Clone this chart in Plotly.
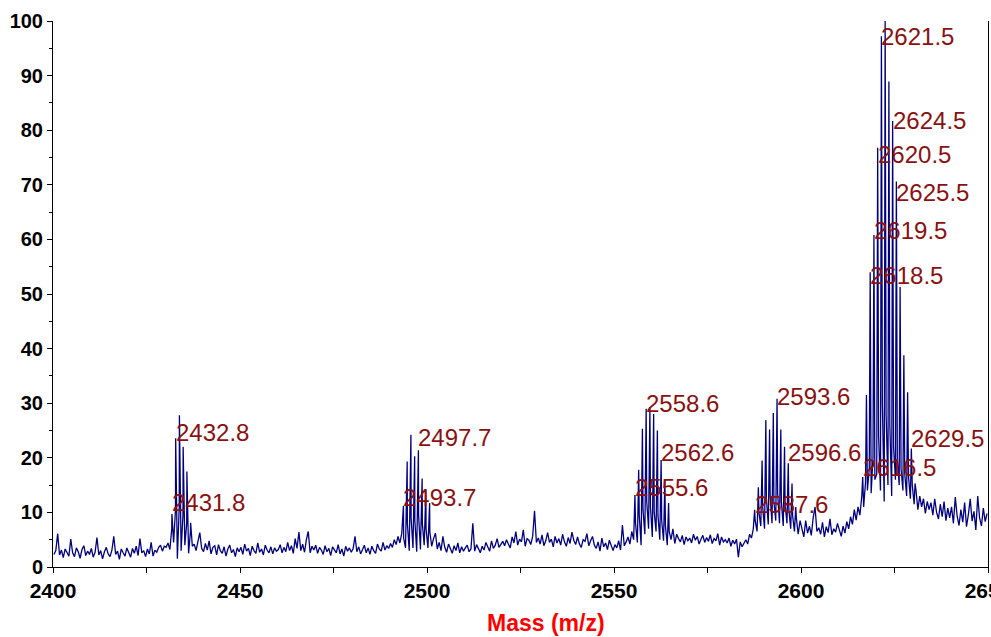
import numpy as np
import plotly.graph_objects as go

# ---------------- data ----------------
baseline_start = 2400.25
baseline_step = 0.5
baseline = [
    2.3, 3.0, 6.1, 2.2, 3.1, 1.7, 3.3, 2.5, 2.0, 5.1,
    2.6, 1.9, 3.5, 2.8, 1.6, 3.2, 3.9, 2.1, 2.9, 2.3,
    3.4, 1.8, 2.7, 5.4, 2.2, 3.0, 1.5, 2.8, 3.6, 2.4,
    1.9, 3.1, 5.6, 2.3, 2.9, 1.4, 3.3, 2.6, 2.0, 3.5,
    2.7, 1.8, 3.4, 2.5, 3.8, 2.1, 5.2, 2.6, 3.0, 1.9,
    3.3, 2.4, 4.5, 2.0, 3.1, 2.7, 3.6, 4.0, 2.9, 3.8,
    3.6, 4.4, 3.2, 7.0, 4.5, 10.5, 1.5, 11.0, 3.0, 9.5,
    4.0, 8.0, 2.5, 6.5, 3.8, 4.2, 3.0, 5.0, 6.3, 3.4,
    2.8, 4.3, 3.1, 4.8, 2.4, 3.6, 3.9, 2.2, 4.1, 3.0,
    2.5, 3.7, 2.0, 3.3, 4.0, 2.6, 3.2, 1.9, 3.5, 2.8,
    3.6, 2.3, 4.2, 2.9, 3.4, 2.1, 3.8, 3.0, 2.5, 4.4,
    2.7, 3.3, 2.2, 4.0, 3.1, 2.6, 3.7, 2.4, 3.5, 2.9,
    3.2, 4.1, 2.6, 3.6, 2.8, 4.5, 3.0, 3.9, 2.5, 5.2,
    3.4, 6.4, 3.0, 4.2, 2.7, 5.0, 6.5, 2.6, 3.8, 3.1,
    4.0, 2.5, 3.6, 3.1, 2.3, 3.9, 2.8, 3.4, 2.1, 3.7,
    3.0, 2.6, 4.1, 2.4, 3.3, 2.0, 3.8, 2.9, 3.5, 2.7,
    3.4, 5.6, 2.8, 3.7, 2.4, 3.2, 4.0, 2.6, 3.5, 2.3,
    3.8, 3.0, 2.5, 4.2, 3.3, 2.9, 4.5, 3.1, 3.9, 3.4,
    4.3, 3.6, 5.0, 4.1, 5.6, 4.4, 6.2, 5.3, 3.5, 8.0,
    3.0, 9.0, 3.5, 8.5, 2.8, 9.5, 3.2, 8.0, 4.0, 7.0,
    3.5, 6.5, 3.8, 5.2, 6.2, 3.3, 4.5, 3.0, 5.6, 3.6,
    2.7, 4.2, 3.4, 2.5, 3.9, 3.0, 4.4, 2.6, 3.7, 2.9,
    3.5, 4.0, 2.8, 3.3, 8.0, 2.9, 4.1, 3.4, 2.6, 3.8,
    3.1, 4.5, 3.7, 2.9, 4.8, 3.4, 4.0, 5.2, 3.6, 4.3,
    4.7, 3.9, 5.0, 4.2, 3.5, 5.5, 4.4, 6.5, 4.0, 5.1,
    4.6, 6.8, 3.8, 5.2, 4.9, 4.1, 5.6, 10.3, 4.5, 5.3,
    4.2, 5.9, 3.9, 4.8, 6.3, 4.5, 5.1, 3.7, 5.6, 4.4,
    5.2, 4.0, 6.0, 4.6, 3.8, 5.4, 4.3, 6.4, 4.9, 4.1,
    5.5, 4.2, 3.6, 5.0, 4.7, 6.1, 3.9, 4.8, 5.6, 4.0,
    3.4, 4.6, 2.9, 5.3, 3.7, 4.4, 3.2, 4.9, 3.8, 3.0,
    4.1, 3.5, 4.8, 3.1, 7.7, 3.9, 4.6, 5.5, 4.2, 6.5,
    5.0, 8.0, 4.5, 9.5, 4.0, 10.5, 6.0, 12.0, 7.0, 11.0,
    5.5, 10.0, 6.5, 9.5, 5.0, 8.5, 4.8, 7.5, 4.0, 6.5,
    5.0, 7.0, 4.3, 6.0, 5.2, 4.6, 5.8, 4.1, 5.5, 4.8,
    5.3, 4.4, 6.0, 4.9, 5.6, 4.2, 5.1, 5.8, 4.5, 5.4,
    4.7, 5.9, 4.3, 5.2, 4.8, 6.1, 4.0, 5.5, 4.6, 5.0,
    4.4, 5.3, 3.8, 4.9, 4.2, 5.1, 1.8, 4.6, 3.7, 4.3,
    5.0, 4.2, 6.0, 5.3, 7.0, 8.5, 6.5, 10.0, 7.5, 11.0,
    7.0, 12.5, 7.8, 13.0, 8.0, 12.0, 8.5, 13.5, 8.0, 12.0,
    7.5, 11.5, 8.0, 10.5, 7.0, 9.5, 6.5, 9.0, 6.0, 8.5,
    7.0, 5.5, 8.5, 6.2, 7.5, 5.8, 9.0, 11.0, 6.5, 7.2,
    6.0, 8.2, 5.5, 7.4, 6.3, 8.8, 5.9, 7.0, 6.4, 8.0,
    6.8, 5.6, 7.5, 6.2, 8.3, 7.0, 9.2, 7.8, 10.5, 8.6,
    11.0, 9.5, 13.0, 11.0, 15.5, 14.0, 18.0, 13.5, 20.0, 16.0,
    17.0, 24.0, 14.0, 30.0, 12.0, 28.0, 15.0, 26.0, 13.0, 22.0,
    16.0, 20.0, 15.0, 18.0, 14.0, 17.0, 13.0, 16.5, 12.5, 15.0,
    11.5, 14.0, 10.5, 13.0, 11.0, 12.5, 9.8, 12.0, 10.5, 11.8,
    9.5, 12.5, 10.0, 8.8, 11.5, 9.2, 12.0, 8.5, 10.8, 9.0,
    11.0, 8.0, 12.8, 9.3, 7.6, 10.5, 8.2, 11.8, 7.4, 9.6,
    12.5, 8.4, 10.2, 6.8, 13.0, 9.0, 7.5, 10.8, 8.3, 9.8,
]

# Isotope peak sticks (m/z, relative intensity)
peaks1_mz = [2431.8, 2432.8, 2433.8, 2434.8, 2435.8, 2436.8]
peaks1_int = [9.7, 23.6, 27.8, 22.0, 17.5, 8.1]

peaks2_mz = [2493.7, 2494.7, 2495.7, 2496.7, 2497.7, 2498.7, 2499.7, 2500.7]
peaks2_int = [11.2, 19.3, 24.2, 20.3, 21.4, 16.2, 14.1, 11.7]

peaks3_mz = [2555.6, 2556.6, 2557.6, 2558.6, 2559.6, 2560.6, 2561.6, 2562.6, 2563.6, 2564.6]
peaks3_int = [13.2, 17.8, 25.3, 29.0, 29.3, 28.0, 25.0, 19.6, 15.9, 11.7]

peaks4_mz = [2587.6, 2588.6, 2589.6, 2590.6, 2591.6, 2592.6, 2593.6, 2594.6, 2595.6,
             2596.6, 2597.6, 2598.6]
peaks4_int = [10.5, 14.6, 19.5, 26.9, 25.2, 28.2, 30.8, 25.2, 22.0, 19.0, 15.3, 11.0]

peaks5_mz = [2616.5, 2617.5, 2618.5, 2619.5, 2620.5, 2621.5, 2622.5, 2623.5, 2624.5,
             2625.5, 2626.5, 2627.5, 2628.5, 2629.5, 2630.5]
peaks5_int = [16.5, 31.5, 54.0, 60.8, 76.8, 97.2, 100.0, 88.9, 81.7, 70.6, 51.3, 38.8,
              32.0, 21.7, 15.3]

# Peak labels and their vertical positions
label_text = ["2432.8", "2431.8", "2497.7", "2493.7", "2558.6", "2562.6", "2555.6",
              "2593.6", "2596.6", "2587.6", "2621.5", "2624.5", "2620.5", "2625.5",
              "2619.5", "2618.5", "2629.5", "2616.5"]
label_y = [24.7, 11.9, 23.8, 12.8, 29.9, 20.9, 14.5, 31.3, 20.9, 11.5, 97.1, 81.7,
           75.5, 68.5, 61.7, 53.3, 23.6, 18.3]

x_ticks = [2400, 2450, 2500, 2550, 2600, 2650]
x_ticklabels = ["2400", "2450", "2500", "2550", "2600", "2650"]
y_ticks = [0, 10, 20, 30, 40, 50, 60, 70, 80, 90, 100]

# ---------------- build spectrum ----------------
base_x = baseline_start + baseline_step * np.arange(len(baseline))
all_x = np.concatenate([base_x, peaks1_mz, peaks2_mz, peaks3_mz, peaks4_mz, peaks5_mz])
all_y = np.concatenate([baseline, peaks1_int, peaks2_int, peaks3_int, peaks4_int, peaks5_int])
order = np.argsort(all_x, kind="stable")
spec_x = all_x[order]
spec_y = all_y[order]

FONT = "Arial, Liberation Sans, sans-serif"

fig = go.Figure()
fig.add_trace(go.Scatter(x=spec_x, y=spec_y, mode="lines",
                         line=dict(color="#000080", width=1.3), hoverinfo="skip",
                         showlegend=False))

for t, yv in zip(label_text, label_y):
    fig.add_annotation(x=float(t), y=yv, text=t, showarrow=False, xanchor="left",
                       yanchor="middle", xshift=-2,
                       font=dict(family=FONT, size=24, color="#8B1111"))

# axis title as annotation
fig.add_annotation(x=2531.9, y=-0.1026, xref="x", yref="paper", text="<b>Mass (m/z)</b>",
                   showarrow=False, xanchor="center", yanchor="middle",
                   font=dict(family=FONT, size=23, color="#FF0000"))

fig.update_layout(
    width=991, height=637,
    margin=dict(l=53, r=3, t=21, b=70),
    paper_bgcolor="white", plot_bgcolor="white",
    showlegend=False,
    xaxis=dict(range=[2400, 2650], tickvals=x_ticks, ticktext=x_ticklabels,
               ticks="outside", ticklen=5, tickwidth=1, tickcolor="black",
               showline=True, linecolor="black", linewidth=1, showgrid=False,
               zeroline=False, automargin=False, ticklabeloverflow="allow",
               tickfont=dict(family=FONT, size=21, color="black", weight="bold"),
               minor=dict(tickvals=[2425, 2475, 2525, 2575, 2625], ticks="outside",
                          ticklen=5, tickcolor="black", showgrid=False)),
    yaxis=dict(range=[0, 100], tickvals=y_ticks,
               ticks="outside", ticklen=5, tickwidth=1, tickcolor="black",
               showline=True, linecolor="black", linewidth=1, mirror=True,
               showgrid=False, zeroline=False, automargin=False,
               tickfont=dict(family=FONT, size=20, color="black", weight="bold"),
               minor=dict(dtick=5, ticks="outside", ticklen=3, tickcolor="black",
                          showgrid=False)),
)

fig.write_html("out.html", config={"displayModeBar": False},
               post_script="document.body.style.margin='0px';")
